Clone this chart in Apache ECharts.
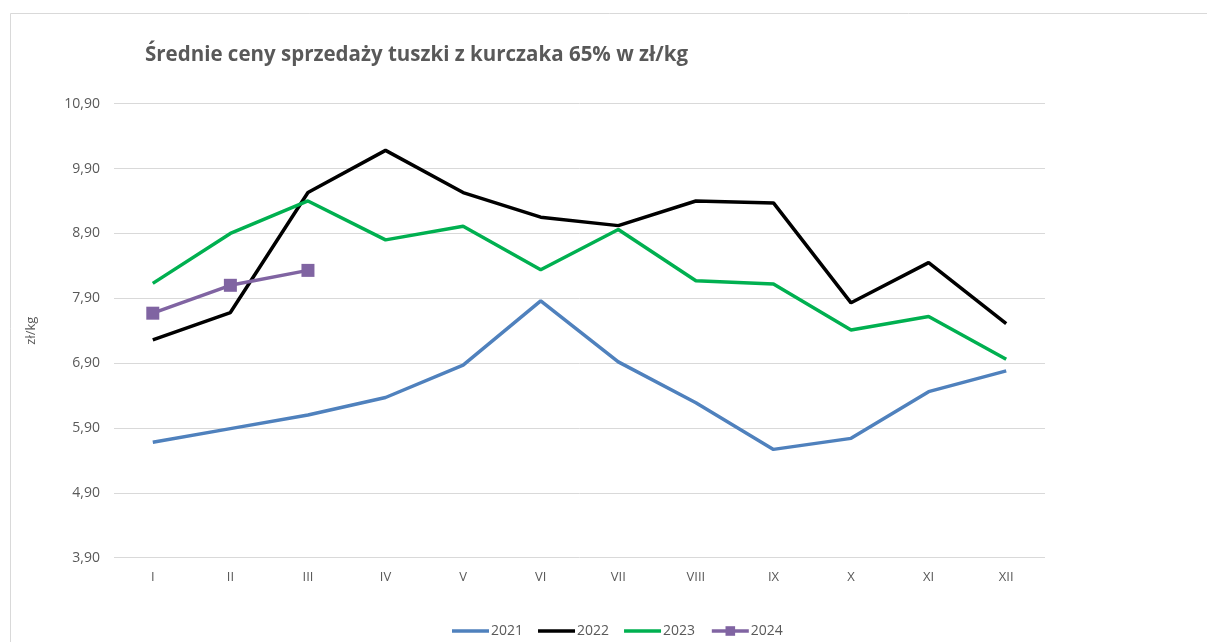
<!DOCTYPE html>
<html>
<head>
<meta charset="utf-8">
<script src="https://cdn.jsdelivr.net/npm/echarts@6/dist/echarts.min.js"></script>
<style>html,body{margin:0;padding:0;background:#fff}#c{width:1207px;height:642px}</style>
</head>
<body>
<div id="c"></div>
<script>
const months = ['I','II','III','IV','V','VI','VII','VIII','IX','X','XI','XII'];
const s2021 = [5.68, 5.89, 6.10, 6.37, 6.87, 7.86, 6.92, 6.29, 5.57, 5.74, 6.46, 6.78];
const s2022 = [7.26, 7.68, 9.53, 10.18, 9.53, 9.15, 9.02, 9.40, 9.37, 7.83, 8.45, 7.51];
const s2023 = [8.13, 8.90, 9.40, 8.80, 9.01, 8.34, 8.96, 8.17, 8.12, 7.41, 7.62, 6.96];
const s2024 = [7.67, 8.10, 8.33];
const seriesNames = ['2021','2022','2023','2024'];
const titleText = 'Średnie ceny sprzedaży tuszki z kurczaka 65% w zł/kg';
const yName = 'zł/kg';

const FONT = '"Open Sans", sans-serif';
const LINE_ICON = 'path://M0,0 L37,0 L37,3.5 L0,3.5 Z';
const chart = echarts.init(document.getElementById('c'));
chart.setOption({
  animation: false,
  backgroundColor: '#fff',
  graphic: [{
    type: 'rect', shape: {x: 10.5, y: 13.5, width: 1300, height: 700},
    style: {fill: 'none', stroke: '#d9d9d9', lineWidth: 1}, silent: true, z: -10
  }],
  title: {
    text: titleText, left: 140, top: 40,
    textStyle: {fontFamily: FONT, fontSize: 20.5, fontWeight: 'bold', color: '#595959'}
  },
  legend: {
    left: 447, top: 619, itemWidth: 37, itemHeight: 12, itemGap: 15,
    textStyle: {fontFamily: FONT, fontSize: 14, color: '#595959', padding: [0,0,0,-3]},
    data: [
      {name: seriesNames[0], icon: LINE_ICON},
      {name: seriesNames[1], icon: LINE_ICON},
      {name: seriesNames[2], icon: LINE_ICON},
      {name: seriesNames[3], lineStyle: {width: 3.5}}
    ]
  },
  grid: {left: 114, right: 162, top: 103.7, bottom: 84.3, containLabel: false},
  xAxis: {
    type: 'category', data: months, boundaryGap: true,
    axisLine: {show: false}, axisTick: {show: false},
    axisLabel: {fontFamily: FONT, fontSize: 13, color: '#595959', margin: 13}
  },
  yAxis: {
    type: 'value', min: 3.9, max: 10.9, interval: 1,
    name: yName, nameLocation: 'middle', nameGap: 76, nameRotate: 90,
    nameTextStyle: {fontFamily: FONT, fontSize: 13, color: '#595959'},
    axisLine: {show: false}, axisTick: {show: false},
    axisLabel: {fontFamily: FONT, fontSize: 14, color: '#595959', margin: 14,
      formatter: v => v.toFixed(2).replace('.', ',')},
    splitLine: {lineStyle: {color: '#d9d9d9', width: 1}}
  },
  series: [
    {name: seriesNames[0], type: 'line', data: s2021, symbol: 'none',
     lineStyle: {color: '#4f81bd', width: 3.5}, itemStyle: {color: '#4f81bd'}},
    {name: seriesNames[1], type: 'line', data: s2022, symbol: 'none',
     lineStyle: {color: '#000000', width: 3.5}, itemStyle: {color: '#000000'}},
    {name: seriesNames[2], type: 'line', data: s2023, symbol: 'none',
     lineStyle: {color: '#00b050', width: 3.5}, itemStyle: {color: '#00b050'}},
    {name: seriesNames[3], type: 'line', data: s2024, symbol: 'rect', symbolSize: 13,
     lineStyle: {color: '#8064a2', width: 3.5}, itemStyle: {color: '#8064a2'}}
  ]
});
</script>
</body>
</html>
